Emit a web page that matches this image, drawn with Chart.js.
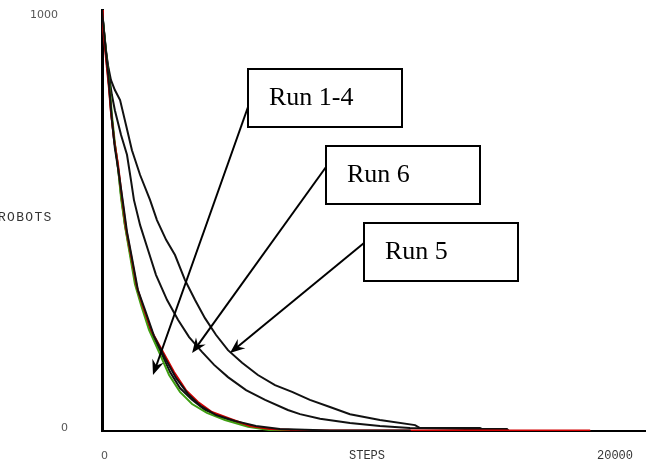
<!DOCTYPE html>
<html>
<head>
<meta charset="utf-8">
<script src="https://cdn.jsdelivr.net/npm/chart.js@4.4.1/dist/chart.umd.min.js"></script>
<style>
  html, body { margin: 0; padding: 0; background: #fff; }
  #wrap { width: 646px; height: 467px; }
</style>
</head>
<body>
<div id="wrap"><canvas id="c" width="646" height="467"></canvas></div>
<script>
// robots left vs. steps
// runs 1-4 lie almost on top of each other
const run1Steps = [0, 40, 120, 200, 280, 360, 490, 610, 770, 930, 1130, 1370, 1620, 1940, 2340, 2750, 3150, 3640, 4160, 4850, 5780, 6670, 7390];
const run1Robots = [1000, 964, 917, 869, 822, 762, 691, 644, 561, 489, 425, 347, 299, 240, 192, 140, 102, 74, 50, 33, 14, 5, 0];

const run2Steps = [0, 40, 120, 200, 280, 360, 490, 650, 810, 970, 1170, 1410, 1660, 2020, 2460, 2910, 3390, 3880, 4440, 5170, 5980, 6790, 8000, 12800, 19700, 19720];
const run2Robots = [1000, 957, 910, 862, 815, 758, 691, 632, 553, 482, 418, 342, 295, 235, 188, 140, 97, 69, 45, 29, 12, 5, 2, 1, 1, 0];

const run3Steps = [0, 40, 120, 200, 320, 400, 520, 650, 770, 930, 1130, 1330, 1580, 1900, 2300, 2710, 3150, 3640, 4240, 4970, 5900, 6790, 7600];
const run3Robots = [1000, 971, 924, 876, 810, 751, 684, 625, 553, 487, 418, 349, 299, 240, 188, 133, 93, 64, 43, 26, 10, 2, 0];

const run4Steps = [0, 80, 160, 240, 320, 400, 520, 690, 850, 1010, 1210, 1450, 1740, 2100, 2550, 2990, 3470, 4000, 4610, 5370, 6220, 7190, 9210, 12440, 12460];
const run4Robots = [1000, 948, 900, 853, 798, 739, 672, 608, 542, 473, 411, 335, 287, 226, 173, 126, 88, 59, 38, 24, 12, 5, 1, 1, 0];

const run6Steps = [0, 80, 160, 280, 400, 520, 770, 1010, 1170, 1290, 1540, 1860, 2180, 2630, 3070, 3520, 4040, 4530, 5090, 5820, 6590, 7510, 8000, 8810, 10020, 11230, 12440, 15270, 15470];
const run6Robots = [1000, 950, 902, 846, 798, 762, 703, 656, 596, 549, 489, 430, 371, 311, 264, 223, 188, 157, 128, 97, 74, 50, 40, 29, 19, 12, 7, 4, 0];

const run5Steps = [0, 80, 160, 240, 360, 520, 730, 970, 1210, 1540, 1940, 2220, 2590, 2950, 3350, 3760, 4160, 4610, 5090, 5660, 6300, 6990, 7680, 8400, 9210, 10020, 11230, 12650, 12850, 15270, 15350, 16360, 16440];
const run5Robots = [1000, 952, 905, 869, 834, 810, 786, 727, 667, 608, 549, 501, 454, 418, 359, 311, 268, 228, 192, 162, 133, 109, 93, 74, 57, 40, 26, 14, 7, 7, 5, 5, 0];

const xTicks = [0, 20000];
const yTicks = [0, 1000];

const notes = [
  { text: 'Run 1-4', left: 248, top: 69, from: [248, 107], tip: [2060, 133] },
  { text: 'Run 6', left: 326, top: 146, from: [326, 167], tip: [3640, 185] },
  { text: 'Run 5', left: 364, top: 223, from: [364, 243], tip: [5170, 185] },
];

function pts(xs, ys) {
  return xs.map((x, i) => ({ x: x, y: ys[i] }));
}

function run(label, xs, ys, color) {
  return {
    label: label,
    data: pts(xs, ys),
    borderColor: color,
    borderWidth: 2,
    pointRadius: 0,
    tension: 0,
    fill: false,
  };
}

const textPlugin = {
  id: 'texts',
  afterDraw(chart) {
    const ctx = chart.ctx;
    const xs = chart.scales.x;
    const ys = chart.scales.y;
    ctx.save();
    ctx.textBaseline = 'middle';

    // tick labels
    ctx.fillStyle = '#555';
    ctx.font = '11px "DejaVu Sans"';
    ctx.textAlign = 'right';
    ctx.fillText(String(yTicks[1]), 58, ys.getPixelForValue(yTicks[1]) + 5);
    ctx.fillText(String(yTicks[0]), 68, ys.getPixelForValue(yTicks[0]) - 3);
    ctx.textAlign = 'left';
    ctx.fillText(String(xTicks[0]), xs.getPixelForValue(xTicks[0]) - 1, 456);

    ctx.fillStyle = '#333';
    ctx.font = '12px "Liberation Mono"';
    ctx.fillText(String(xTicks[1]), xs.getPixelForValue(xTicks[1]), 456);
    ctx.textAlign = 'center';
    ctx.fillText('STEPS', 367, 456);
    ctx.textAlign = 'left';
    ctx.font = '13px "Liberation Mono"';
    ctx.letterSpacing = '1.3px';
    ctx.fillText('ROBOTS', -2, 218);
    ctx.letterSpacing = '0px';

    // callouts
    for (const n of notes) {
      const tx = xs.getPixelForValue(n.tip[0]);
      const ty = ys.getPixelForValue(n.tip[1]);
      const [fx, fy] = n.from;
      const a = Math.atan2(ty - fy, tx - fx);
      ctx.strokeStyle = '#000';
      ctx.lineWidth = 2;
      ctx.beginPath();
      ctx.moveTo(fx, fy);
      ctx.lineTo(tx - 8 * Math.cos(a), ty - 8 * Math.sin(a));
      ctx.stroke();
      ctx.fillStyle = '#000';
      ctx.beginPath();
      ctx.moveTo(tx, ty);
      ctx.lineTo(tx - 15 * Math.cos(a) + 6 * Math.sin(a), ty - 15 * Math.sin(a) - 6 * Math.cos(a));
      ctx.lineTo(tx - 10 * Math.cos(a), ty - 10 * Math.sin(a));
      ctx.lineTo(tx - 15 * Math.cos(a) - 6 * Math.sin(a), ty - 15 * Math.sin(a) + 6 * Math.cos(a));
      ctx.closePath();
      ctx.fill();

      ctx.fillStyle = '#fff';
      ctx.fillRect(n.left, n.top, 154, 58);
      ctx.lineWidth = 2;
      ctx.strokeRect(n.left, n.top, 154, 58);
      ctx.fillStyle = '#000';
      ctx.font = '26px "Liberation Serif"';
      ctx.textBaseline = 'alphabetic';
      ctx.fillText(n.text, n.left + 21, n.top + 36);
      ctx.textBaseline = 'middle';
    }
    ctx.restore();
  }
};

new Chart(document.getElementById('c'), {
  type: 'line',
  data: {
    datasets: [
      run('Run 4', run4Steps, run4Robots, '#111'),
      run('Run 2', run2Steps, run2Robots, '#d40000'),
      run('Run 3', run3Steps, run3Robots, '#3f9e12'),
      run('Run 1', run1Steps, run1Robots, '#111'),
      run('Run 6', run6Steps, run6Robots, '#111'),
      run('Run 5', run5Steps, run5Robots, '#111'),
    ]
  },
  options: {
    responsive: false,
    animation: false,
    layout: { padding: { left: 102, right: 0, top: 10, bottom: 36 } },
    plugins: { legend: { display: false }, tooltip: { enabled: false } },
    scales: {
      x: {
        type: 'linear',
        min: 0,
        max: 21980,
        grid: { display: false, drawTicks: false },
        ticks: { display: false },
        border: { color: '#000', width: 2 },
        afterFit(s) { s.height = 0; }
      },
      y: {
        min: 0,
        max: 1000,
        grid: { display: false, drawTicks: false },
        ticks: { display: false },
        border: { color: '#000', width: 3 },
        afterFit(s) { s.width = 0; }
      }
    }
  },
  plugins: [textPlugin]
});
</script>
</body>
</html>
